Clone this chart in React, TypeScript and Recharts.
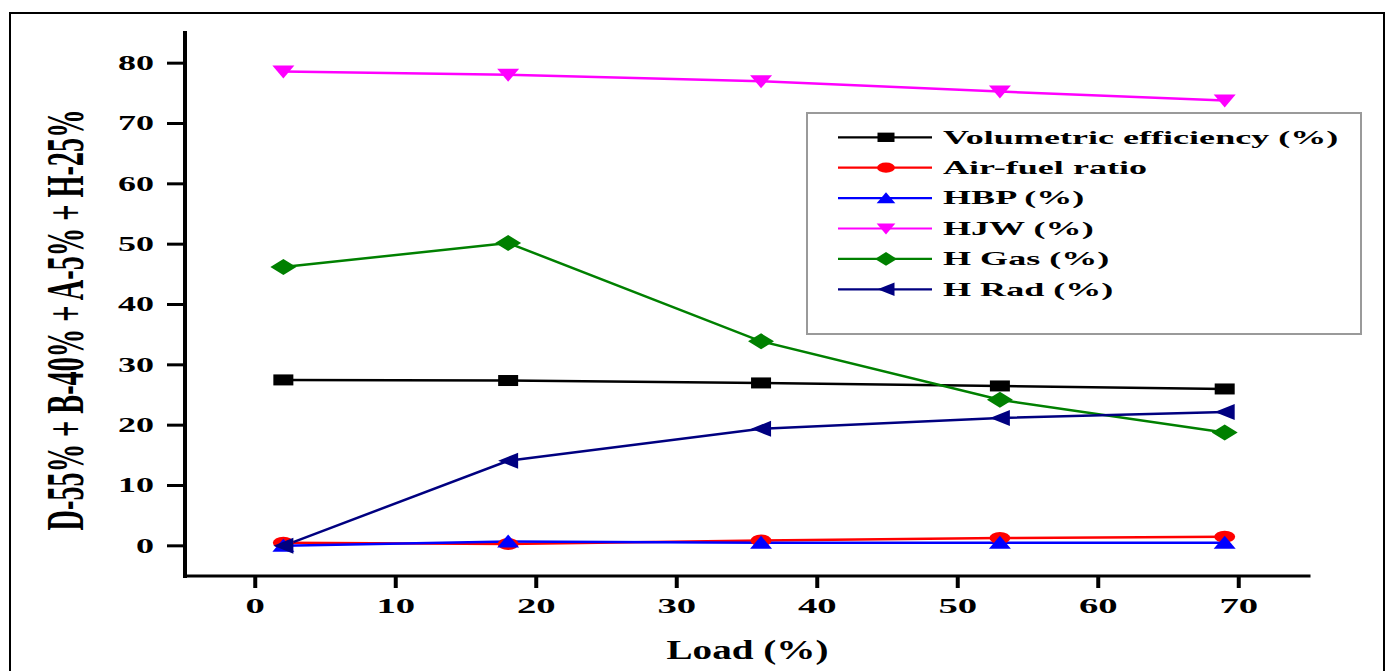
import React from 'react';
import { LineChart, Line, XAxis, YAxis } from 'recharts';

// Load steps and measured values for each series
const loads = [2, 18, 36, 53, 69];
const volEff = [27.5, 27.4, 27.0, 26.5, 26.0];
const airFuel = [0.5, 0.3, 0.9, 1.3, 1.5];
const hbp = [0, 0.7, 0.5, 0.5, 0.5];
const hjw = [78.6, 78.1, 77.0, 75.3, 73.8];
const hGas = [46.2, 50.2, 33.9, 24.2, 18.8];
const hRad = [0, 14.1, 19.4, 21.2, 22.2];

const xTicks = [0, 10, 20, 30, 40, 50, 60, 70];
const yTicks = [0, 10, 20, 30, 40, 50, 60, 70, 80];

const series = [
  { key: 'vol', name: 'Volumetric efficiency (%)', color: '#000000', shape: 'square', values: volEff },
  { key: 'afr', name: 'Air-fuel ratio', color: '#ff0000', shape: 'circle', values: airFuel },
  { key: 'hbp', name: 'HBP (%)', color: '#0000ff', shape: 'up', values: hbp },
  { key: 'hjw', name: 'HJW (%)', color: '#ff00ff', shape: 'down', values: hjw },
  { key: 'hgas', name: 'H Gas (%)', color: '#008000', shape: 'diamond', values: hGas },
  { key: 'hrad', name: 'H Rad (%)', color: '#000080', shape: 'left', values: hRad },
];

const data = loads.map((load, i) => {
  const row: Record<string, number> = { load };
  series.forEach((s) => {
    row[s.key] = s.values[i];
  });
  return row;
});

const FONT = "'Liberation Serif', 'Times New Roman', serif";
// glyphs are drawn wide, as in the printed figure
const STRETCH = 1.8;

const Marker = ({ cx, cy, shape, color, k = 1 }: any) => {
  if (cx == null || cy == null) return null;
  switch (shape) {
    case 'square':
      return <rect x={cx - 10 * k} y={cy - 5.5 * k} width={20 * k} height={11 * k} fill={color} />;
    case 'circle':
      return <ellipse cx={cx} cy={cy} rx={10.5 * k} ry={6 * k} fill={color} />;
    case 'up':
      return (
        <polygon
          points={`${cx},${cy - 7 * k} ${cx + 11 * k},${cy + 6 * k} ${cx - 11 * k},${cy + 6 * k}`}
          fill={color}
        />
      );
    case 'down':
      return (
        <polygon
          points={`${cx - 11 * k},${cy - 6 * k} ${cx + 11 * k},${cy - 6 * k} ${cx},${cy + 7 * k}`}
          fill={color}
        />
      );
    case 'diamond':
      return (
        <polygon
          points={`${cx},${cy - 8 * k} ${cx + 13 * k},${cy} ${cx},${cy + 8 * k} ${cx - 13 * k},${cy}`}
          fill={color}
        />
      );
    case 'left':
      return (
        <polygon
          points={`${cx - 10 * k},${cy} ${cx + 10 * k},${cy - 8 * k} ${cx + 10 * k},${cy + 8 * k}`}
          fill={color}
        />
      );
    default:
      return null;
  }
};

const XTick = ({ x, y, payload }: any) => (
  <text
    transform={`translate(${x},${y + 14.5}) scale(${STRETCH},1)`}
    textAnchor="middle"
    fontFamily={FONT}
    fontWeight="bold"
    fontSize={21.5}
    fill="#000"
  >
    {payload.value}
  </text>
);

const YTick = ({ x, y, payload }: any) => (
  <text
    transform={`translate(${x},${y + 6.8}) scale(${STRETCH},1)`}
    textAnchor="end"
    fontFamily={FONT}
    fontWeight="bold"
    fontSize={20}
    fill="#000"
  >
    {payload.value}
  </text>
);

const YTitle = () => (
  <text
    transform="translate(83,320) rotate(-90) scale(1,1.87)"
    textAnchor="middle"
    fontFamily={FONT}
    fontWeight="bold"
    fontSize={28.3}
    fill="#000"
  >
    D-55% + B-40% + A-5% + H-25%
  </text>
);

const XTitle = () => (
  <text
    transform="translate(747.5,659) scale(1.45,1)"
    textAnchor="middle"
    fontFamily={FONT}
    fontWeight="bold"
    fontSize={27}
    fill="#000"
  >
    Load (%)
  </text>
);

const LegendBox = () => (
  <svg
    width={556}
    height={224}
    style={{ position: 'absolute', left: 806, top: 112 }}
  >
    <rect x={1} y={1} width={554} height={221} fill="#fff" stroke="#9a9a9a" strokeWidth={2} />
    {series.map((s, i) => {
      const cy = 25.3 + i * 30.4;
      return (
        <g key={s.key}>
          <line x1={32} x2={126} y1={cy} y2={cy} stroke={s.color} strokeWidth={2.2} />
          <Marker cx={80} cy={cy} shape={s.shape} color={s.color} k={0.85} />
          <text
            transform={`translate(137,${cy + 6.3}) scale(1.9,1)`}
            fontFamily={FONT}
            fontWeight="bold"
            fontSize={19}
            fill="#000"
          >
            {s.name}
          </text>
        </g>
      );
    })}
  </svg>
);

const App = () => {
  return (
    <div
      style={{
        position: 'absolute',
        left: 0,
        top: 0,
        width: 1395,
        height: 671,
        background: '#fff',
        overflow: 'hidden',
      }}
    >
      {/* outer frame */}
      <div
        style={{
          position: 'absolute',
          left: 9,
          top: 12,
          width: 1376,
          height: 672,
          border: '2px solid #000',
          boxSizing: 'border-box',
        }}
      />
      <div style={{ position: 'absolute', left: 0, top: 0 }}>
        <LineChart width={1395} height={671} data={data} margin={{ top: 33, right: 86, bottom: 55, left: 105 }}>
          <XAxis
            dataKey="load"
            type="number"
            domain={[-5, 75]}
            ticks={xTicks}
            height={40}
            tickSize={12}
            tickMargin={10}
            tick={<XTick />}
            axisLine={{ stroke: '#000', strokeWidth: 3, strokeLinecap: 'square' }}
            tickLine={{ stroke: '#000', strokeWidth: 4 }}
            label={<XTitle />}
            allowDataOverflow
          />
          <YAxis
            type="number"
            domain={[-5, 85]}
            ticks={yTicks}
            width={80}
            tickSize={18}
            tickMargin={13}
            tick={<YTick />}
            axisLine={{ stroke: '#000', strokeWidth: 4, strokeLinecap: 'square' }}
            tickLine={{ stroke: '#000', strokeWidth: 3 }}
            label={<YTitle />}
            allowDataOverflow
          />
          {series.map((s) => (
            <Line
              key={s.key}
              dataKey={s.key}
              name={s.name}
              type="linear"
              stroke={s.color}
              strokeWidth={2.5}
              isAnimationActive={false}
              dot={(p: any) => <Marker key={`${s.key}-${p.index}`} cx={p.cx} cy={p.cy} shape={s.shape} color={s.color} />}
              activeDot={false}
            />
          ))}
        </LineChart>
      </div>
      <LegendBox />
    </div>
  );
};

export default App;
